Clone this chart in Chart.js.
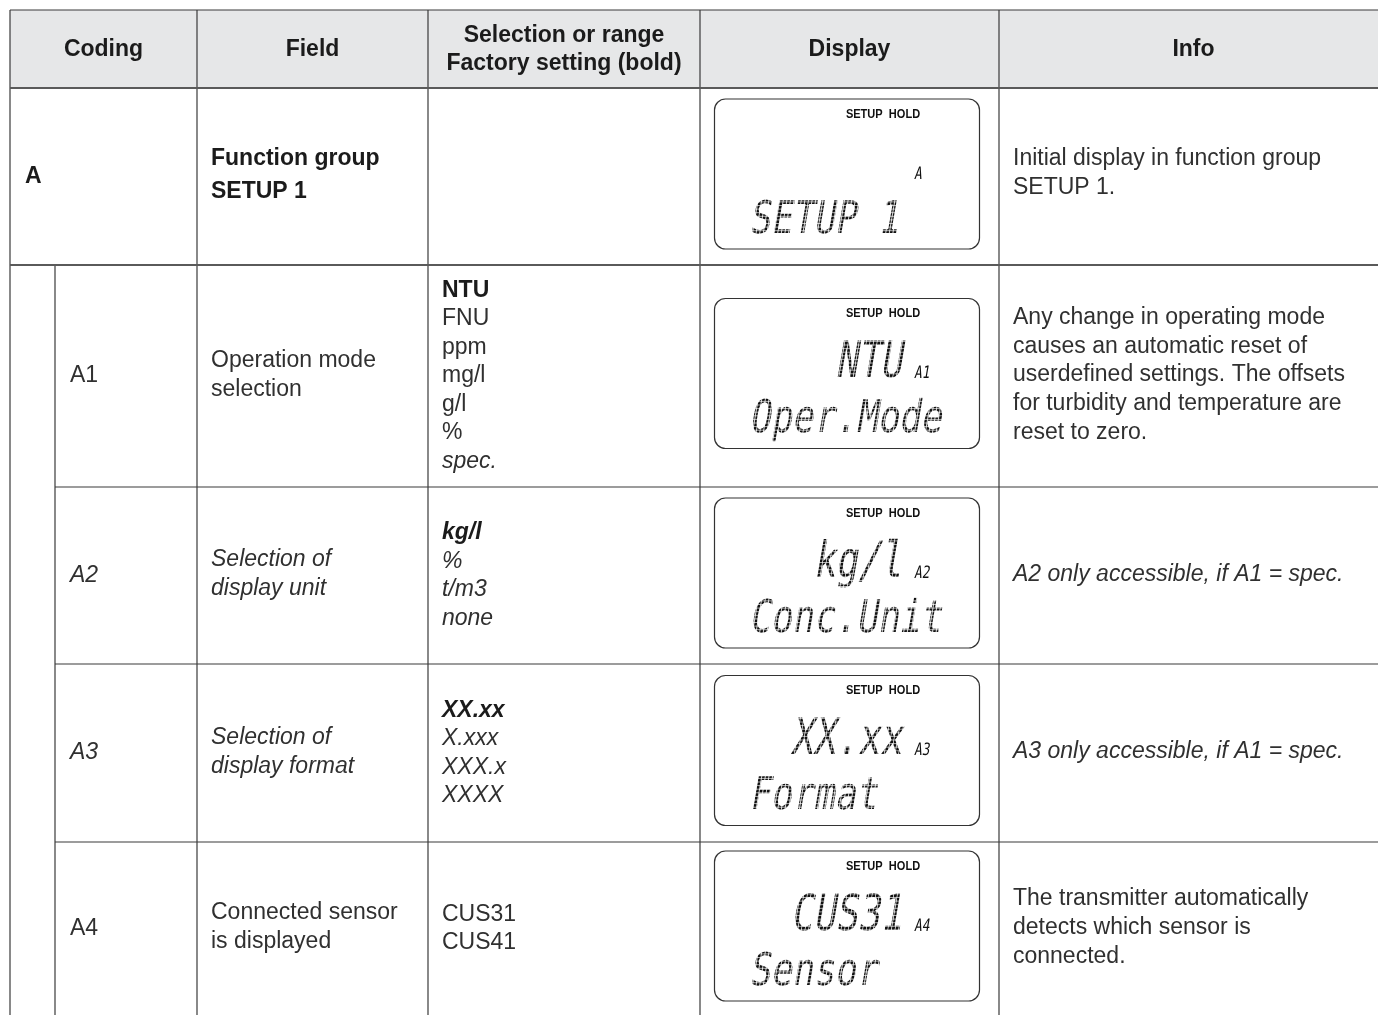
<!DOCTYPE html>
<html>
<head>
<meta charset="utf-8">
<script src="https://cdn.jsdelivr.net/npm/chart.js@4"></script>
<style>
  html, body { margin: 0; padding: 0; background: #fff; }
  canvas { display: block; }
</style>
</head>
<body>
<canvas id="table-chart" width="1378" height="1015"></canvas>
<script>
// Table content
const headers = [['Coding'], ['Field'], ['Selection or range', 'Factory setting (bold)'], ['Display'], ['Info']];
const codes = ['A', 'A1', 'A2', 'A3', 'A4'];
const fields = [
    ['Function group', 'SETUP 1'],
    ['Operation mode', 'selection'],
    ['Selection of', 'display unit'],
    ['Selection of', 'display format'],
    ['Connected sensor', 'is displayed']
];
const selections = [
    [],
    ['NTU', 'FNU', 'ppm', 'mg/l', 'g/l', '%', 'spec.'],
    ['kg/l', '%', 't/m3', 'none'],
    ['XX.xx', 'X.xxx', 'XXX.x', 'XXXX'],
    ['CUS31', 'CUS41']
];
const infos = [
    ['Initial display in function group', 'SETUP 1.'],
    ['Any change in operating mode', 'causes an automatic reset of', 'userdefined settings. The offsets', 'for turbidity and temperature are', 'reset to zero.'],
    ['A2 only accessible, if A1 = spec.'],
    ['A3 only accessible, if A1 = spec.'],
    ['The transmitter automatically', 'detects which sensor is', 'connected.']
];
const lcdStatus = 'SETUP  HOLD';
const lcdValues = ['', 'NTU', 'kg/l', 'XX.xx', 'CUS31'];
const lcdCodes = ['A', 'A1', 'A2', 'A3', 'A4'];
const lcdLabels = ['SETUP 1', 'Oper.Mode', 'Conc.Unit', 'Format', 'Sensor'];

// Styles per row / per selection line
const rowStyle = ['bold', 'normal', 'italic', 'italic', 'normal'];
const selStyle = [
    [],
    ['bold', 'normal', 'normal', 'normal', 'normal', 'normal', 'italic'],
    ['italic bold', 'italic', 'italic', 'italic'],
    ['italic bold', 'italic', 'italic', 'italic'],
    ['normal', 'normal']
];

// Layout (in scale units, page sized)
const colX = [10, 55, 197, 428, 700, 999, 1388];
const rowY = [10, 88, 265, 487, 664, 842, 1015];
const FONT = '"Liberation Sans", Arial, Helvetica, sans-serif';
const LCD_FONT = '"DejaVu Sans Mono", monospace';

function drawLines(ctx, lines, x, cy, lh, styles, size, align) {
    ctx.textAlign = align || 'left';
    ctx.textBaseline = 'middle';
    lines.forEach((t, i) => {
        const st = Array.isArray(styles) ? styles[i] : styles;
        ctx.font = `${st} ${size}px ${FONT}`;
        ctx.fillStyle = st.includes('bold') ? '#1b1b1b' : '#303030';
        ctx.fillText(t, x, cy + (i - (lines.length - 1) / 2) * lh);
    });
}

function lcdText(ctx, text, x, baseline, size, sx, align, dotted) {
    if (!text) return;
    ctx.save();
    ctx.translate(x, baseline);
    ctx.transform(sx, 0, -0.17, 1, 0, 0);
    ctx.font = `${size}px ${LCD_FONT}`;
    ctx.textAlign = align;
    ctx.textBaseline = 'alphabetic';
    ctx.fillStyle = '#111';
    ctx.fillText(text, 0, 0);
    if (dotted) {
        const w = ctx.measureText(text).width;
        const x0 = align === 'right' ? -w : 0;
        // dot-matrix look: erase a fine grid over the glyphs
        ctx.strokeStyle = '#fff';
        ctx.lineWidth = 0.7;
        const pitch = 3.6;
        ctx.beginPath();
        for (let gy = -size; gy < size * 0.3; gy += pitch) {
            ctx.moveTo(x0 - 4, gy);
            ctx.lineTo(x0 + w + 4, gy);
        }
        ctx.stroke();
        ctx.beginPath();
        ctx.lineWidth = 0.7 / sx;
        for (let gx = x0; gx < x0 + w; gx += pitch / sx) {
            ctx.moveTo(gx, -size);
            ctx.lineTo(gx, size * 0.3);
        }
        ctx.stroke();
    }
    ctx.restore();
}

function roundRect(ctx, x, y, w, h, r) {
    ctx.beginPath();
    ctx.moveTo(x + r, y);
    ctx.arcTo(x + w, y, x + w, y + h, r);
    ctx.arcTo(x + w, y + h, x, y + h, r);
    ctx.arcTo(x, y + h, x, y, r);
    ctx.arcTo(x, y, x + w, y, r);
    ctx.closePath();
}

const tablePlugin = {
    id: 'tablePlugin',
    beforeDraw(chart) {
        const ctx = chart.ctx;
        const X = v => chart.scales.x.getPixelForValue(v);
        const Y = v => chart.scales.y.getPixelForValue(v);
        ctx.save();
        ctx.fillStyle = '#fff';
        ctx.fillRect(0, 0, chart.width, chart.height);

        // header background
        ctx.fillStyle = '#e6e7e8';
        ctx.fillRect(X(colX[0]), Y(rowY[0]), X(colX[6]) - X(colX[0]), Y(rowY[1]) - Y(rowY[0]));

        // header texts
        const headCols = [[0, 2], [2, 3], [3, 4], [4, 5], [5, 6]];
        headers.forEach((h, i) => {
            const cx = (X(colX[headCols[i][0]]) + X(colX[headCols[i][1]])) / 2;
            const cy = (Y(rowY[0]) + Y(rowY[1])) / 2 + 1;
            drawLines(ctx, h, cx, cy, 28, 'bold', 23, 'center');
        });

        // body rows
        codes.forEach((code, r) => {
            const top = Y(rowY[r + 1]), bot = Y(rowY[r + 2]);
            const cy = (top + bot) / 2 - 1;
            const st = rowStyle[r];
            drawLines(ctx, [code], r === 0 ? X(25) : X(70), cy + 1, 29, st, 23);
            drawLines(ctx, fields[r], X(colX[2] + 14), cy, r === 0 ? 33 : 29, st, 23);
            drawLines(ctx, selections[r], X(colX[3] + 14), cy + 1, 28.5, selStyle[r], 23);
            drawLines(ctx, infos[r], X(colX[5] + 14), r === 0 ? cy - 2 : cy, 28.8, r === 0 ? 'normal' : st, 23);

            // LCD display
            const bx = X(714), bw = X(979) - X(714);
            const by = cy - 2 - 75, bh = 150;
            ctx.strokeStyle = '#333';
            ctx.lineWidth = 1.2;
            roundRect(ctx, bx + 0.5, by + 0.5, bw, bh, 11);
            ctx.stroke();
            ctx.save();
            ctx.translate(X(883), by + 19);
            ctx.scale(0.92, 1);
            ctx.font = `bold 12px ${FONT}`;
            ctx.textAlign = 'center';
            ctx.textBaseline = 'alphabetic';
            ctx.fillStyle = '#111';
            ctx.fillText(lcdStatus, 0, 0);
            ctx.restore();
            lcdText(ctx, lcdValues[r], X(902), by + 79, 50, 0.74, 'right', true);
            lcdText(ctx, lcdCodes[r], X(914), by + 80, 17, 0.75, 'left', false);
            lcdText(ctx, lcdLabels[r], X(749), by + 134, 45, 0.79, 'left', true);
        });

        // grid lines
        ctx.strokeStyle = '#3a3a3a';
        ctx.lineWidth = 1.2;
        const line = (x1, y1, x2, y2) => {
            ctx.beginPath();
            ctx.moveTo(X(x1), Y(y1));
            ctx.lineTo(X(x2), Y(y2));
            ctx.stroke();
        };
        line(colX[0], rowY[0], colX[6], rowY[0]);
        line(colX[0], rowY[0], colX[0], rowY[6]);
        [2, 3, 4, 5].forEach(c => line(colX[c], rowY[0], colX[c], rowY[6]));
        line(colX[1], rowY[2], colX[1], rowY[6]);
        [3, 4, 5].forEach(r => line(colX[1], rowY[r], colX[6], rowY[r]));
        ctx.strokeStyle = '#5a5a5a';
        ctx.lineWidth = 2;
        line(colX[0], rowY[1], colX[6], rowY[1]);
        line(colX[0], rowY[2], colX[6], rowY[2]);
        ctx.restore();
    }
};

new Chart(document.getElementById('table-chart'), {
    type: 'scatter',
    data: { datasets: [] },
    options: {
        responsive: false,
        animation: false,
        devicePixelRatio: 1,
        layout: { padding: 0 },
        plugins: { legend: { display: false }, tooltip: { enabled: false } },
        scales: {
            x: { type: 'linear', min: 0, max: 1378, display: false },
            y: { type: 'linear', min: 0, max: 1015, reverse: true, display: false }
        }
    },
    plugins: [tablePlugin]
});
</script>
</body>
</html>
